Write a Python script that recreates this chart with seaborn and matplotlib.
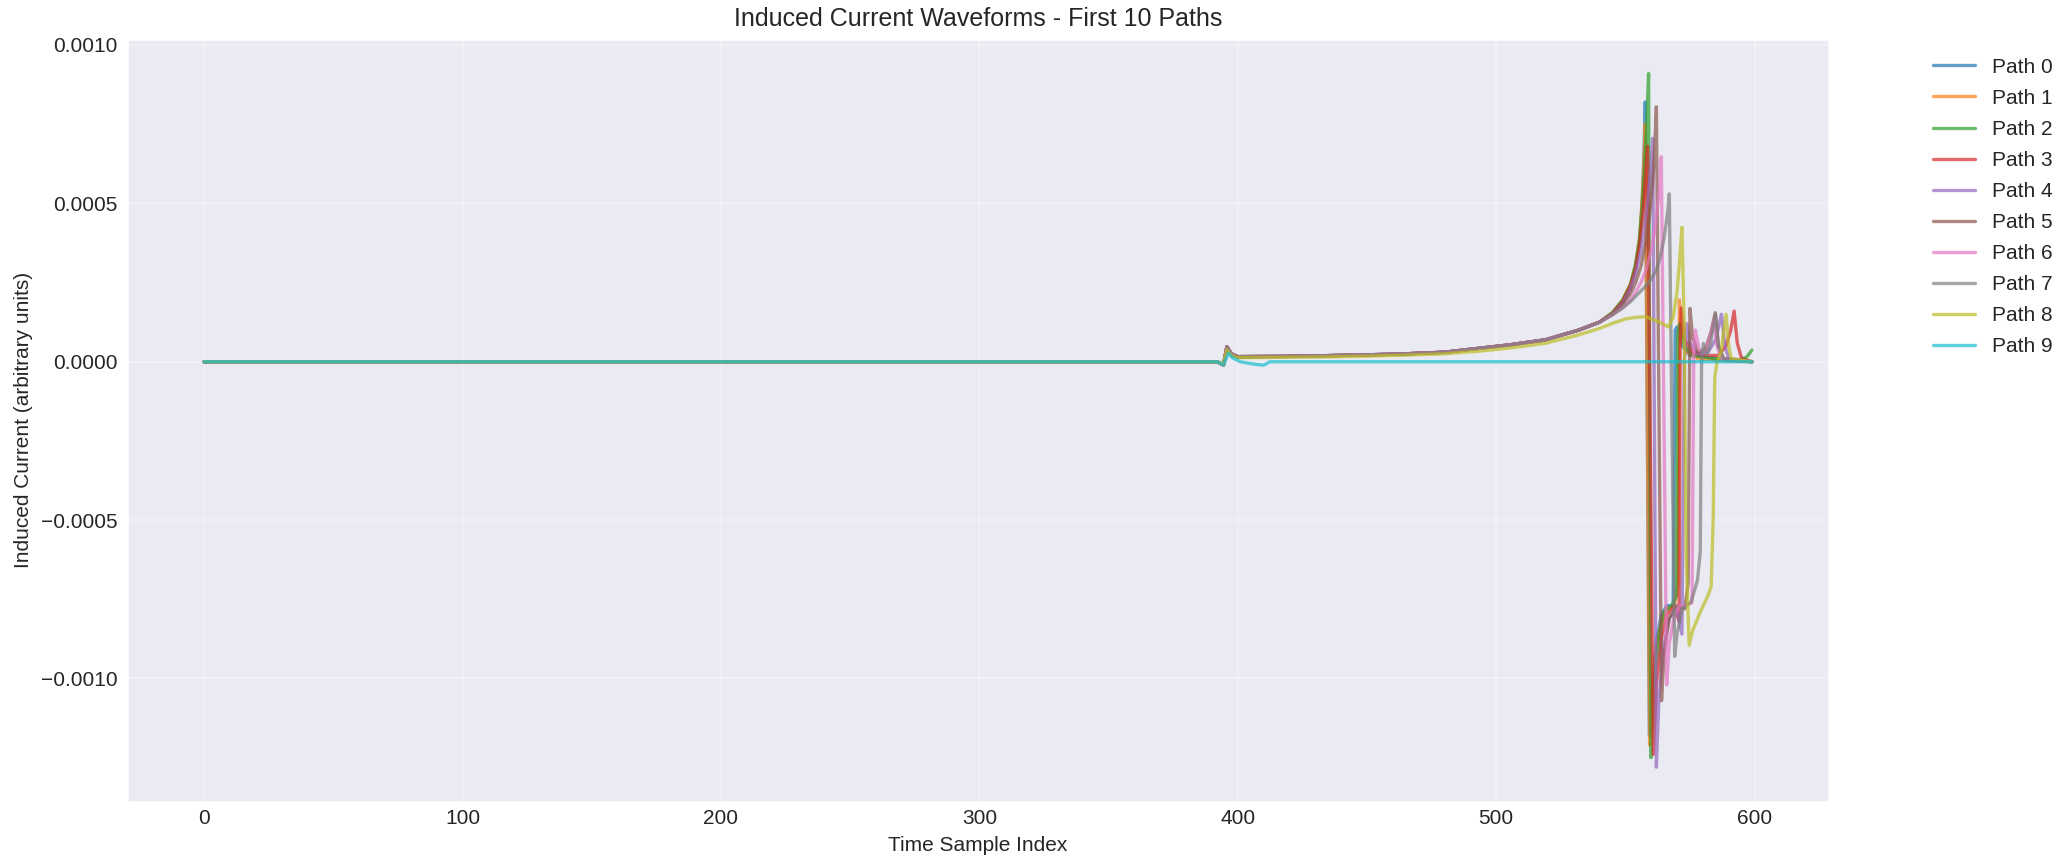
import numpy as np
import pandas as pd
import matplotlib
matplotlib.use("Agg")
import matplotlib.pyplot as plt
import seaborn as sns

# ---------------- data (values in units of 1e-5 arbitrary current) ----------------
SCALE = 1e-5

# shared early part of the waveform (samples 0..540) for paths 0-7
base_x = [0, 392, 394.5, 395.8, 397.5, 400, 420, 440, 462, 480, 493, 505, 519, 532, 540]
base_y = [0, 0, -1.0, 4.7, 2.5, 1.6, 1.7, 2.0, 2.4, 3.0, 4.2, 5.3, 6.9, 10.0, 12.5]
# path 8 sits slightly lower
base8_y = [0, 0, -0.8, 3.8, 2.0, 1.3, 1.4, 1.6, 2.0, 2.5, 3.3, 4.3, 5.8, 8.5, 10.5]

# tails (sample index, value) from sample 545 to the end
p0_x = [545, 549, 552, 554, 555.5, 556.5, 557.2, 557.7, 559.3, 560.5, 562, 564, 566, 568.5,
        569.3, 570, 572, 575, 580, 590, 599]
p0_y = [15.3, 19, 24, 30, 38, 50, 65, 82, -118, -102, -88, -80, -77, -77,
        10, 11, 5, 2, 1.5, 0.5, 0]

p1_x = [545, 549, 552, 554, 555.5, 556.5, 557.2, 557.7, 559.4, 560.5, 562, 564, 566, 569,
        570.3, 570.9, 572, 574, 578, 585, 599]
p1_y = [15.5, 19.5, 24.5, 30.5, 39, 51, 63, 75, -121, -104, -90, -82, -78, -77,
        -70, 19.5, 8, 3, 1, 0.5, 0]

p2_x = [545, 549, 552, 554, 555.5, 556.5, 557.5, 558.3, 559.0, 559.9, 561, 563, 565, 568,
        569.8, 570.3, 571, 573, 576, 580, 590, 594, 597, 599]
p2_y = [15.5, 19.5, 24.5, 31, 39, 49, 62, 75, 91, -125, -103, -86, -79, -77,
        -74, 8, 12, 5, 2, 1.5, 0.5, 0.5, 1.5, 3.7]

p3_x = [545, 549, 552, 554, 555.5, 556.8, 557.8, 558.6, 560.8, 562, 564, 566, 569, 570.8,
        571.2, 571.6, 573, 576, 580, 586, 589, 590.8, 592.1, 593.3, 595, 599]
p3_y = [15.2, 19, 24, 29.5, 37, 47, 58, 68, -124, -102, -87, -80, -77, -82,
        5, 17, 7, 3, 2, 2, 5, 10, 16, 6, 1, 0]

p4_x = [545, 549, 552, 554, 556, 557.5, 558.8, 559.8, 560.6, 562.0, 563, 565, 567, 570,
        571.9, 572.8, 573.8, 575, 578, 582, 585, 587.2, 588.5, 590, 599]
p4_y = [15, 18.5, 23, 28, 35, 43, 52, 61, 70.5, -128, -106, -89, -81, -78,
        -86, 0, 12, 6, 2.5, 3, 7, 15, 5, 1, 0]

p5_x = [545, 549, 552, 554, 556, 558, 559.5, 560.6, 561.4, 562.0, 564.0, 565, 567, 570,
        573, 574.3, 575.0, 576, 578, 581, 583, 584.8, 586, 588, 599]
p5_y = [15, 18, 21.5, 25, 30, 38, 47, 57, 68, 80.5, -107, -92, -81, -77,
        -78, -70, 16.8, 8, 3, 4, 9, 15.5, 5, 1, 0]

p6_x = [545, 549, 552, 554, 556, 558, 560, 561.5, 562.5, 563.3, 563.9, 566.0, 567, 569,
        571, 573, 575.8, 576.5, 577.1, 578.5, 581, 583, 584.3, 585.5, 587, 599]
p6_y = [14.8, 17.0, 19.5, 22, 25, 29, 35, 42, 49, 56, 64.7, -102, -89, -80,
        -77, -77, -76, 4, 10, 4, 3, 8, 13, 5, 1, 0]

p7_x = [545, 549, 552, 555, 558, 560, 562, 563.5, 565, 566, 566.6, 567.0, 569.1, 570,
        572, 575.4, 577.9, 579.0, 579.5, 580.2, 581.5, 583, 584.9, 586, 588, 599]
p7_y = [14.8, 17, 19, 21.5, 24, 26, 29, 33, 39, 45, 49, 53, -93, -86,
        -78, -76, -69, -60, 0, 5.8, 2, 6, 15, 5, 1, 0]

p8_x = [545, 550, 554, 557.9, 560, 563, 566.6, 568.5, 570, 571, 571.9, 572.8, 573.5, 574.7,
        576, 579, 581.9, 583.2, 584.0, 584.6, 585.5, 587, 589, 590, 591, 599]
p8_y = [12.1, 13.5, 14.0, 14.2, 13.5, 12.6, 11.0, 14, 22, 32, 42.4, 10, -60, -89.5,
        -85, -79, -74, -71, -50, -5, 0, 3, 15, 5, 1, 0]

p9_x = [0, 392, 394.5, 395.8, 396.4, 398, 401, 405, 410, 412.5, 599]
p9_y = [0, 0, -1.0, 1.5, 2.7, 1.2, 0.0, -0.6, -1.1, 0, 0]

labels = [f"Path {i}" for i in range(10)]

paths_x = [base_x + p0_x, base_x + p1_x, base_x + p2_x, base_x + p3_x, base_x + p4_x,
           base_x + p5_x, base_x + p6_x, base_x + p7_x, base_x + p8_x, p9_x]
paths_y = [base_y + p0_y, base_y + p1_y, base_y + p2_y, base_y + p3_y, base_y + p4_y,
           base_y + p5_y, base_y + p6_y, base_y + p7_y, base8_y + p8_y, p9_y]

# ---------------- style ----------------
sns.set_theme(style="darkgrid", rc={
    "font.size": 10,
    "axes.labelsize": 10,
    "axes.titlesize": 12,
    "xtick.labelsize": 10,
    "ytick.labelsize": 10,
    "legend.fontsize": 10,
    "lines.linewidth": 1.6,
    "grid.linewidth": 0.8,
    "xtick.major.size": 0,
    "ytick.major.size": 0,
    "xtick.major.pad": 3.5,
    "ytick.major.pad": 4.3,
})
plt.rcParams["font.family"] = ["Liberation Sans", "DejaVu Sans"]

fig, ax = plt.subplots(figsize=(2068 / 150, 860 / 150), dpi=150)
fig.subplots_adjust(left=0.0613, right=0.8846, top=0.9547, bottom=0.0678)

colors = sns.color_palette("tab10", 10)
for i in range(10):
    df = pd.DataFrame({"t": paths_x[i], "I": np.array(paths_y[i]) * SCALE})
    sns.lineplot(data=df, x="t", y="I", ax=ax, color=colors[i], alpha=0.7,
                 linewidth=1.6, label=labels[i], sort=False, estimator=None)

ax.grid(True, alpha=0.3)
ax.set_ylim(-1.389e-3, 1.019e-3)
ax.set_title("Induced Current Waveforms - First 10 Paths")
ax.set_xlabel("Time Sample Index")
ax.set_ylabel("Induced Current (arbitrary units)")
ax.legend(bbox_to_anchor=(1.05, 1), loc="upper left", frameon=False, labelspacing=0.58)

fig.savefig("out.png", dpi=150)
